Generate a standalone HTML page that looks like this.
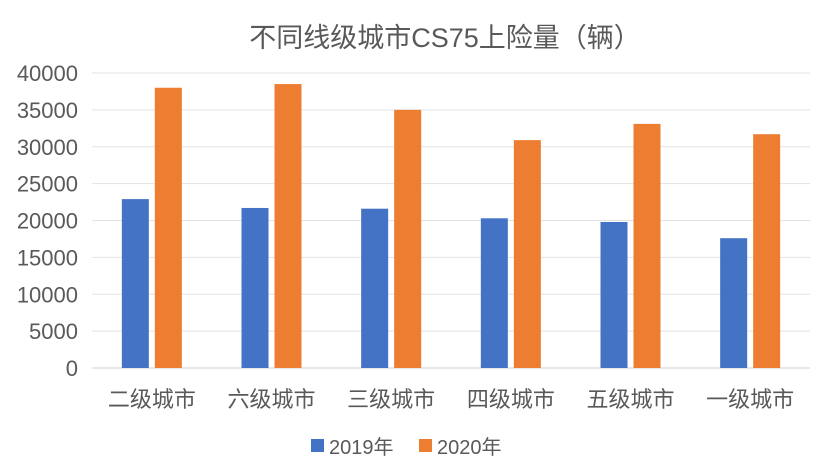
<!DOCTYPE html>
<html><head><meta charset="utf-8">
<style>
html,body{margin:0;padding:0;background:#fff;}
svg text{font-family:"Liberation Sans","Noto Sans CJK SC",sans-serif;fill:#595959;}
</style></head>
<body>
<svg width="820" height="468" xmlns="http://www.w3.org/2000/svg">
<text x="445" y="47" font-size="27" text-anchor="middle">不同线级城市CS75上险量（辆）</text>
<g id="grid"></g>
<g id="bars"></g>
<g id="ylabels"></g>
<g id="xlabels"></g>
<g>
<rect x="311" y="439" width="13" height="13" fill="#4472C4"/>
<text x="329" y="454" font-size="20">2019年</text>
<rect x="419" y="439" width="13" height="13" fill="#ED7D31"/>
<text x="437" y="454" font-size="20">2020年</text>
</g>
</svg>
<script>
const categories=["二级城市","六级城市","三级城市","四级城市","五级城市","一级城市"];
const series2019=[22900,21700,21600,20300,19800,17600];
const series2020=[38000,38500,35000,30900,33100,31700];
const yTicks=[0,5000,10000,15000,20000,25000,30000,35000,40000];
const NS="http://www.w3.org/2000/svg";
const x0=92,x1=810,y0=368,y1=73,yMax=40000;
const y=v=>y0-(v/yMax)*(y0-y1);
const band=(x1-x0)/categories.length;
const bw=27,gap=6;
function mk(t,a){const e=document.createElementNS(NS,t);for(const k in a)e.setAttribute(k,a[k]);return e;}
const grid=document.getElementById('grid'),yl=document.getElementById('ylabels'),bars=document.getElementById('bars'),xl=document.getElementById('xlabels');
yTicks.forEach(t=>{
 const l=mk('line',{x1:x0,x2:x1,y1:y(t),y2:y(t),stroke:t===0?'#d0d0d0':'#e3e3e3','stroke-width':1});
 
 
 grid.appendChild(l);
 const tx=mk('text',{x:78,y:y(t)+8,'font-size':22,'text-anchor':'end'});
 tx.textContent=t;
 
 
 yl.appendChild(tx);
});
categories.forEach((c,i)=>{
 const cx=x0+band*(i+0.5);
 const b1=mk('rect',{x:cx-gap/2-bw,y:y(series2019[i]),width:bw,height:y0-y(series2019[i]),fill:'#4472C4'});
 
 
 bars.appendChild(b1);
 const b2=mk('rect',{x:cx+gap/2,y:y(series2020[i]),width:bw,height:y0-y(series2020[i]),fill:'#ED7D31'});
 
 
 bars.appendChild(b2);
 const t=mk('text',{x:cx,y:407,'font-size':22,'text-anchor':'middle'});
 t.textContent=c;
 
 
 xl.appendChild(t);
});
</script>
</body></html>
